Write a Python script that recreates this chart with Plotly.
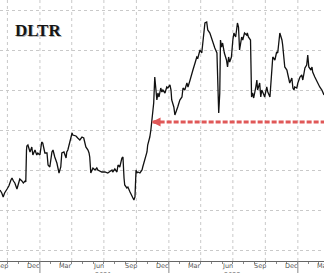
import plotly.graph_objects as go

# ---- data ----
dates = [
    "2020-09-10","2020-09-15","2020-09-19","2020-09-23","2020-09-30","2020-10-05","2020-10-11","2020-10-14",
    "2020-10-18","2020-10-22","2020-10-28","2020-10-31","2020-11-05","2020-11-11","2020-11-15","2020-11-20",
    "2020-11-22","2020-11-24","2020-11-25","2020-11-28","2020-12-04","2020-12-09","2020-12-12","2020-12-18",
    "2020-12-23","2020-12-26","2021-01-01","2021-01-06","2021-01-09","2021-01-15","2021-01-21","2021-01-24",
    "2021-01-29","2021-02-04","2021-02-07","2021-02-12","2021-02-18","2021-02-24","2021-03-01","2021-03-04",
    "2021-03-10","2021-03-16","2021-03-18","2021-03-21","2021-03-27","2021-04-02","2021-04-04","2021-04-13",
    "2021-04-18","2021-04-24","2021-04-30","2021-05-05","2021-05-11","2021-05-17","2021-05-20","2021-05-22",
    "2021-05-25","2021-05-28","2021-05-31","2021-06-06","2021-06-11","2021-06-14","2021-06-25","2021-07-04",
    "2021-07-12","2021-07-24","2021-07-26","2021-08-01","2021-08-07","2021-08-10","2021-08-15","2021-08-21",
    "2021-08-24","2021-08-27","2021-08-29","2021-09-04","2021-09-07","2021-09-13","2021-09-18","2021-09-21",
    "2021-09-24","2021-09-27","2021-09-30","2021-10-02","2021-10-05","2021-10-11","2021-10-17","2021-10-19",
    "2021-10-25","2021-10-31","2021-11-02","2021-11-08","2021-11-11","2021-11-14","2021-11-17","2021-11-19",
    "2021-11-22","2021-11-25","2021-11-28","2021-12-01","2021-12-04","2021-12-09","2021-12-12","2021-12-15",
    "2021-12-21","2021-12-26","2021-12-29","2022-01-04","2022-01-07","2022-01-09","2022-01-15","2022-01-18",
    "2022-01-24","2022-01-26","2022-02-01","2022-02-07","2022-02-10","2022-02-15","2022-02-21","2022-02-24",
    "2022-03-02","2022-03-07","2022-03-10","2022-03-16","2022-03-21","2022-03-24","2022-03-30","2022-04-04",
    "2022-04-07","2022-04-13","2022-04-18","2022-04-21","2022-04-27","2022-05-03","2022-05-05","2022-05-11",
    "2022-05-17","2022-05-20","2022-05-22","2022-05-25","2022-05-27","2022-05-30","2022-06-02","2022-06-07",
    "2022-06-13","2022-06-16","2022-06-19","2022-06-22","2022-06-27","2022-07-01","2022-07-04","2022-07-09",
    "2022-07-12","2022-07-14","2022-07-17","2022-07-20","2022-07-26","2022-07-29","2022-08-03","2022-08-09",
    "2022-08-11","2022-08-14","2022-08-20","2022-08-23","2022-08-26","2022-08-29","2022-09-04","2022-09-07",
    "2022-09-09","2022-09-15","2022-09-18","2022-09-21","2022-09-27","2022-09-29","2022-10-05","2022-10-08",
    "2022-10-14","2022-10-19","2022-10-22","2022-10-28","2022-11-02","2022-11-05","2022-11-11","2022-11-17",
    "2022-11-19","2022-11-25","2022-12-01","2022-12-04","2022-12-09","2022-12-15","2022-12-18","2022-12-21",
    "2022-12-23","2022-12-29","2023-01-01","2023-01-07","2023-01-12","2023-01-15","2023-01-21","2023-01-26",
    "2023-01-29","2023-02-01","2023-02-07","2023-02-10","2023-02-12","2023-02-18","2023-02-24","2023-02-27",
    "2023-03-04","2023-03-10","2023-03-16",
]
prices = [
    90, 88.5, 86.5, 88.5, 90.5, 92, 95, 96,
    94.5, 93.5, 90.5, 92, 95.5, 94.5, 93.5, 94.5,
    94, 110, 112, 112.5, 109, 111.5, 107.5, 110,
    107.5, 108.5, 107.5, 114, 113.5, 108.5, 108.5, 102.5,
    101.5, 109, 110, 106.5, 103.5, 98.5, 101.5, 108.5,
    109, 106, 109, 110, 115, 118.5, 117.5, 117,
    116, 115, 116.5, 116, 111.5, 110, 108.5, 106.5,
    98.5, 100, 101, 100, 101, 100, 99, 99,
    98.5, 100, 99, 100.5, 99, 102.5, 101.5, 106,
    106.5, 96, 92.5, 91, 91.5, 89, 87.5, 86,
    85, 86.5, 100, 98.5, 99, 98.5, 100, 101.5,
    105, 109, 112.5, 116.5, 120, 125, 131.5, 133.5,
    146.5, 140, 135, 138.5, 136.5, 141, 139, 140,
    138.5, 141.5, 141, 142.5, 140, 135, 131.5, 127.5,
    130, 131.5, 135, 136.5, 141, 140, 143.5, 141.5,
    145, 147.5, 150, 153.5, 156.5, 156, 160, 158.5,
    165, 173.5, 174, 170, 168.5, 165, 163.5, 161,
    158.5, 135, 128.5, 138.5, 165, 161.5, 163.5, 158.5,
    155, 151.5, 156.5, 154, 156.5, 165, 168.5, 166.5,
    170, 173.5, 171.5, 160, 166.5, 165, 168.5, 167.5,
    168.5, 166.5, 165, 136.5, 138.5, 136, 141.5, 145,
    140, 143.5, 136.5, 140, 137.5, 136.5, 141.5, 139,
    136.5, 151.5, 156.5, 155, 159, 158.5, 168.5, 165,
    162.5, 151.5, 150, 147.5, 143.5, 146, 141, 140,
    141.5, 141, 143.5, 146.5, 147.5, 145, 151, 152.5,
    157.5, 151.5, 150, 151.5, 149, 146.5, 144, 143.5,
    141.5, 140, 137.5,
]

title_text = "DLTR"
x_range = ["2020-09-10", "2023-03-16"]
y_range = [54.5, 185]
y_grid_step = 20

month_label_dates = ["2020-09-15","2020-12-15","2021-03-15","2021-06-15","2021-09-15","2021-12-15",
                     "2022-03-15","2022-06-15","2022-09-15","2022-12-15","2023-03-15"]
month_labels = ["Sep","Dec","Mar","Jun","Sep","Dec","Mar","Jun","Sep","Dec","Mar"]
quarter_grid_dates = ["2020-10-01","2021-01-01","2021-04-01","2021-07-01","2021-10-01",
                      "2022-01-01","2022-04-01","2022-07-01","2022-10-01","2023-01-01"]
month_tick_dates = ["2020-10-01","2020-11-01","2020-12-01","2021-01-01","2021-02-01","2021-03-01",
                    "2021-04-01","2021-05-01","2021-06-01","2021-07-01","2021-08-01","2021-09-01",
                    "2021-10-01","2021-11-01","2021-12-01","2022-01-01","2022-02-01","2022-03-01",
                    "2022-04-01","2022-05-01","2022-06-01","2022-07-01","2022-08-01","2022-09-01",
                    "2022-10-01","2022-11-01","2022-12-01","2023-01-01","2023-02-01","2023-03-01"]
year_label_dates = ["2021-07-01", "2022-07-01"]
year_labels = ["2021", "2022"]
year_sep_dates = ["2021-01-01", "2022-01-01", "2023-01-01"]

ref_level = 124
ref_start = "2021-11-13"
ref_line_start = "2021-11-16"
ref_end = "2023-03-16"

RED = "#e05858"
GRID = "#c9c9c9"

fig = go.Figure()
fig.add_trace(go.Scatter(x=dates, y=prices, mode="lines",
                         line=dict(color="#111111", width=1.3), hoverinfo="skip"))

shapes = []
for d in quarter_grid_dates:
    shapes.append(dict(type="line", xref="x", yref="paper", x0=d, x1=d, y0=0, y1=1,
                       line=dict(color=GRID, width=1, dash="dot"), layer="below"))
for d in year_sep_dates:
    shapes.append(dict(type="line", xref="x", yref="paper", x0=d, x1=d, y0=0, y1=-0.06,
                       line=dict(color="#888888", width=1)))
shapes.append(dict(type="line", xref="x", yref="y", x0=ref_line_start, x1=ref_end,
                   y0=ref_level, y1=ref_level,
                   line=dict(color=RED, width=3, dash="5px,2px")))

annotations = []
for d, t in zip(month_label_dates, month_labels):
    annotations.append(dict(x=d, y=0.003, xref="x", yref="paper", text=t, showarrow=False,
                            yanchor="top", font=dict(family="DejaVu Sans", size=6.5, color="#555555")))
for d, t in zip(year_label_dates, year_labels):
    annotations.append(dict(x=d, y=-0.032, xref="x", yref="paper", text=t, showarrow=False,
                            yanchor="top", font=dict(family="DejaVu Sans", size=6.5, color="#555555")))
# arrow head of red line
annotations.append(dict(x=ref_start, y=ref_level, xref="x", yref="y", ax=7, ay=0,
                        axref="pixel", ayref="pixel", text="", showarrow=True,
                        arrowhead=2, arrowsize=0.6, arrowwidth=3, arrowcolor=RED))
# title with shadow
annotations.append(dict(x=0.039, y=0.885, xref="paper", yref="paper", text="<b>%s</b>" % title_text,
                        showarrow=False, xanchor="left", yanchor="middle", xshift=1.5, yshift=-1.5,
                        font=dict(family="Liberation Serif", size=17, color="rgba(0,0,0,0.3)")))
annotations.append(dict(x=0.039, y=0.885, xref="paper", yref="paper", text="<b>%s</b>" % title_text,
                        showarrow=False, xanchor="left", yanchor="middle",
                        font=dict(family="Liberation Serif", size=17, color="#151515")))

fig.update_layout(
    width=324, height=273,
    margin=dict(l=0, r=0, t=0, b=12),
    paper_bgcolor="white", plot_bgcolor="white",
    showlegend=False,
    shapes=shapes, annotations=annotations,
    xaxis=dict(range=x_range, type="date", showgrid=False, zeroline=False,
               showticklabels=False, showline=True, linecolor="#666666", linewidth=1,
               tickmode="array", tickvals=month_tick_dates, ticks="outside", ticklen=2,
               tickcolor="#888888", fixedrange=True),
    yaxis=dict(range=y_range, dtick=y_grid_step, tick0=0, showgrid=True, gridcolor=GRID,
               griddash="dot", gridwidth=1, zeroline=False, showticklabels=False,
               showline=False, fixedrange=True),
)

fig.write_html("out.html")
